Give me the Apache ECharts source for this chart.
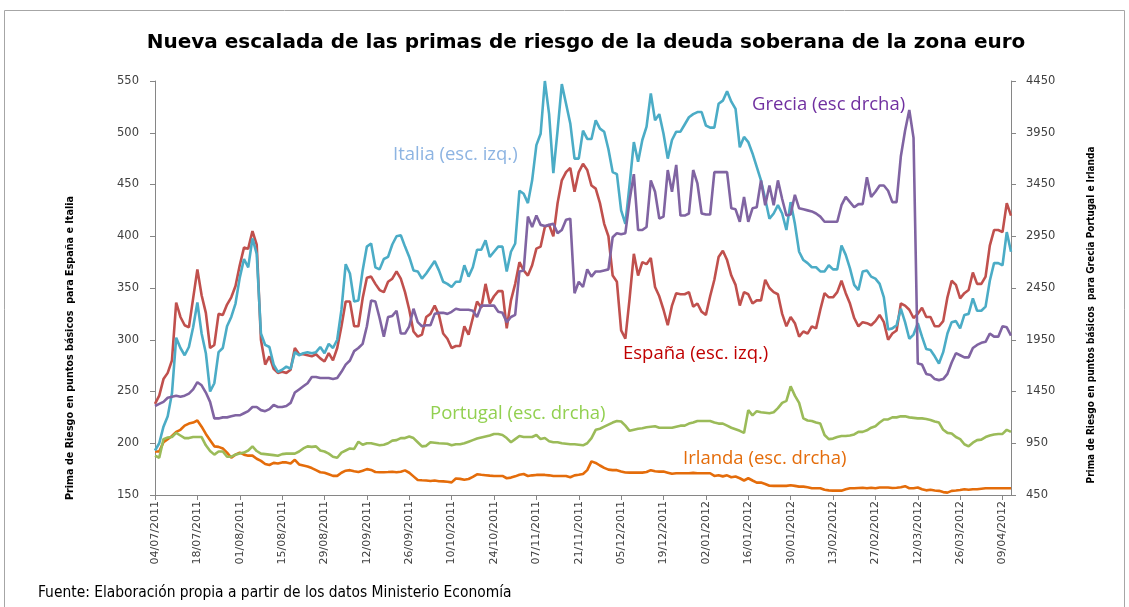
<!DOCTYPE html>
<html>
<head>
<meta charset="utf-8">
<script src="https://cdn.jsdelivr.net/npm/echarts@6/dist/echarts.min.js"></script>
<style>
  html, body { margin: 0; padding: 0; background: #fff; }
  #chart { width: 1129px; height: 607px; }
</style>
</head>
<body>
<div id="chart"></div>
<script>
// dias habiles desde el 04/07/2011 (203 sesiones)
const startDate = [2011, 6, 4];
const nDays = 203;

const tickLabels = ['04/07/2011', '18/07/2011', '01/08/2011', '15/08/2011', '29/08/2011', '12/09/2011',
  '26/09/2011', '10/10/2011', '24/10/2011', '07/11/2011', '21/11/2011', '05/12/2011', '19/12/2011',
  '02/01/2012', '16/01/2012', '30/01/2012', '13/02/2012', '27/02/2012', '12/03/2012', '26/03/2012', '09/04/2012'];

// escala izquierda
const espana = [
  238,246,262,268,280,336,322,314,312,340,368,343,326,292,295,325,324,334,341,352,372,389,388,405,392,300,276,284,272,268,269,268,271,292,286,286,285,284,286,282,279,287,280,292,313,337,337,313,313,340,360,
  361,354,348,346,356,359,366,359,346,329,308,303,305,322,325,333,324,306,301,292,294,294,313,305,321,337,331,354,335,342,347,347,311,338,354,375,367,362,372,388,390,409,411,400,432,454,462,466,443,462,470,464,
  449,446,432,412,400,362,356,309,301,340,383,362,375,373,379,351,342,329,314,333,345,344,344,346,332,335,327,324,342,358,380,386,377,362,353,333,346,344,335,338,338,358,350,346,344,325,313,322,316,303,308,306,313,
  311,329,345,341,341,346,357,345,335,321,313,317,316,314,318,324,317,300,306,309,335,333,329,321,325,331,322,322,313,313,318,341,357,353,340,345,348,365,354,354,361,391,406,406,404,432,420
];
const italia = [
  193,200,216,226,248,302,292,285,293,312,336,306,287,250,258,288,292,313,322,335,360,378,370,398,383,306,295,293,276,269,271,274,272,288,285,287,288,287,288,293,287,296,292,300,329,373,364,337,338,367,390,
  393,370,368,378,380,392,400,401,390,380,367,366,359,364,370,376,367,356,354,351,356,356,372,361,370,387,387,396,380,385,390,390,366,385,393,444,441,432,454,488,499,550,518,461,502,547,528,509,475,475,502,494,
  494,512,504,501,484,462,460,425,412,450,491,472,493,506,538,512,518,499,475,493,501,501,508,515,518,520,520,507,505,505,528,531,540,530,523,486,496,491,480,467,454,436,417,422,430,422,406,433,412,385,377,374,370,
  370,366,366,372,368,368,391,382,369,353,348,366,367,361,359,354,341,310,311,314,330,317,301,305,316,303,291,290,284,277,288,306,317,318,311,324,325,340,328,328,332,357,374,374,372,404,385
];
// escala derecha
const grecia = [
  1310,1330,1350,1390,1400,1410,1400,1410,1430,1470,1540,1510,1440,1350,1190,1190,1200,1200,1210,1220,1220,1240,1260,1300,1300,1270,1260,1280,1320,1300,1300,1310,1340,1440,1470,1500,1530,1590,1590,1580,1580,1580,1570,1580,1640,1710,1750,1840,1870,1910,2080,
  2330,2320,2160,1980,2170,2180,2230,2010,2010,2080,2250,2120,2080,2090,2090,2200,2210,2210,2200,2220,2250,2240,2240,2240,2230,2170,2280,2280,2280,2280,2220,2210,2120,2170,2190,2610,2620,3140,3040,3150,3060,3050,3060,3070,2980,3010,3110,3120,2400,2510,2460,2630,
  2560,2610,2610,2620,2630,2940,2980,2970,2980,3300,3550,3010,3010,3040,3490,3380,3120,3140,3590,3380,3640,3150,3150,3170,3590,3460,3170,3160,3160,3570,3570,3570,3570,3220,3210,3090,3330,3090,3220,3230,3490,3250,3440,3250,3490,3310,3150,3160,3350,3220,3210,3200,3190,
  3170,3140,3090,3090,3090,3090,3250,3330,3280,3230,3260,3260,3520,3330,3380,3440,3440,3390,3280,3280,3720,3970,4170,3900,1720,1710,1620,1610,1570,1560,1570,1620,1730,1820,1800,1780,1780,1870,1900,1920,1930,2010,1980,1980,2080,2070,1990
];
const portugal = [
  830,810,990,1005,1010,1050,1025,1000,1000,1010,1010,1010,930,875,840,870,870,820,820,840,850,860,880,920,875,850,845,840,835,830,845,850,850,850,870,900,920,915,920,880,870,850,820,810,860,880,900,895,965,935,950,
  950,940,930,935,950,975,980,1000,1000,1015,1000,960,920,925,960,955,950,948,945,930,940,940,950,965,980,995,1005,1015,1025,1040,1040,1030,1000,960,990,1020,1010,1010,1010,1030,990,1000,970,960,960,950,945,940,940,935,930,950,
  1000,1080,1090,1110,1130,1150,1165,1160,1120,1070,1080,1090,1095,1105,1110,1115,1100,1100,1100,1100,1110,1120,1120,1140,1150,1165,1165,1165,1165,1150,1140,1140,1120,1100,1085,1070,1050,1270,1220,1260,1250,1245,1240,1250,1290,1340,1360,1500,1410,1340,1190,1170,1165,
  1150,1140,1030,990,995,1010,1020,1020,1025,1035,1060,1060,1075,1100,1115,1150,1180,1180,1200,1200,1210,1210,1200,1195,1190,1190,1185,1175,1160,1150,1080,1050,1045,1010,990,940,920,955,980,985,1010,1025,1035,1040,1040,1080,1060
];
const irlanda = [
  870,870,960,990,1020,1060,1080,1120,1140,1150,1170,1110,1040,980,920,915,900,860,810,840,860,840,830,830,800,780,750,740,760,755,765,765,755,790,745,735,725,710,690,670,665,650,635,635,665,685,690,680,672,685,700,
  692,672,670,670,672,675,670,675,688,665,630,595,592,590,585,590,583,582,578,572,610,606,598,605,625,650,645,641,637,634,634,634,612,618,630,645,653,634,640,644,644,644,640,634,634,634,634,621,640,645,653,690,
  775,760,735,712,695,690,690,678,668,666,666,666,666,672,690,680,676,676,666,655,660,660,660,660,664,660,660,660,660,634,640,630,640,621,628,612,590,612,590,570,570,557,540,538,538,538,538,544,538,531,531,525,515,
  515,515,500,495,492,492,492,505,515,515,518,520,515,520,515,522,522,522,518,520,525,535,515,515,522,505,495,500,493,490,478,473,490,493,498,505,500,505,505,510,515,515,515,515,515,515,515
];

function pad(n) { return (n < 10 ? '0' : '') + n; }
function businessDays(start, n) {
  const out = [];
  const d = new Date(start[0], start[1], start[2]);
  while (out.length < n) {
    const wd = d.getDay();
    if (wd !== 0 && wd !== 6) out.push(pad(d.getDate()) + '/' + pad(d.getMonth() + 1) + '/' + d.getFullYear());
    d.setDate(d.getDate() + 1);
  }
  return out;
}
const dates = businessDays(startDate, nDays);

const axisGray = '#868686';
const tickFont = { fontFamily: 'DejaVu Sans', fontSize: 11.5, color: '#404040' };
const nameFont = '"Liberation Sans Narrow", "DejaVu Sans Condensed", sans-serif';

function lineSeries(name, data, color, yIndex) {
  return {
    name, type: 'line', data, yAxisIndex: yIndex,
    showSymbol: false, symbol: 'none',
    lineStyle: { color, width: 2.6 }, itemStyle: { color },
    z: 2
  };
}

const chart = echarts.init(document.getElementById('chart'));
chart.setOption({
  animation: false,
  grid: { left: 155, right: 118, top: 81, bottom: 112 },
  xAxis: {
    type: 'category',
    data: dates,
    boundaryGap: false,
    axisLine: { lineStyle: { color: axisGray, width: 1 } },
    axisTick: { interval: 9, length: 5, lineStyle: { color: axisGray } },
    axisLabel: {
      interval: (i, v) => tickLabels.includes(v),
      rotate: 90, margin: 6, ...tickFont, fontSize: 11
    }
  },
  yAxis: [
    {
      type: 'value', min: 150, max: 550, interval: 50,
      axisLine: { show: true, lineStyle: { color: axisGray } },
      axisTick: { show: true, length: 5, lineStyle: { color: axisGray } },
      splitLine: { show: false },
      axisLabel: { margin: 16, formatter: (v) => String(v), ...tickFont }
    },
    {
      type: 'value', min: 450, max: 4450, interval: 500,
      position: 'right',
      axisLine: { show: true, lineStyle: { color: axisGray } },
      axisTick: { show: true, length: 5, lineStyle: { color: axisGray } },
      splitLine: { show: false },
      axisLabel: { margin: 15, formatter: (v) => String(v), ...tickFont }
    }
  ],
  series: [
    lineSeries('Irlanda', irlanda, '#E46C0A', 1),
    lineSeries('Portugal', portugal, '#9BBB59', 1),
    lineSeries('España', espana, '#C0504D', 0),
    lineSeries('Italia', italia, '#4BACC6', 0),
    lineSeries('Grecia', grecia, '#8064A2', 1)
  ],
  graphic: [
    { type: 'rect', shape: { x: 4.5, y: 10.5, width: 1120, height: 620 },
      style: { fill: 'none', stroke: '#a6a6a6', lineWidth: 1 }, silent: true },
    { type: 'text', x: 586, y: 43,
      style: { text: 'Nueva escalada de las primas de riesgo de la deuda soberana de la zona euro',
        fontFamily: 'DejaVu Sans', fontWeight: 'bold', fontSize: 20, fill: '#000',
        textAlign: 'center', textVerticalAlign: 'middle' } },
    { type: 'text', x: 70, y: 348, rotation: Math.PI / 2,
      style: { text: 'Prima de Riesgo en puntos básicos  para España e Italia',
        fontFamily: nameFont, fontWeight: 'bold', fontSize: 10.7, fill: '#000',
        textAlign: 'center', textVerticalAlign: 'middle' } },
    { type: 'text', x: 1091, y: 315, rotation: Math.PI / 2,
      style: { text: 'Prima de Riesgo en puntos básicos  para Grecia Portugal e Irlanda',
        fontFamily: nameFont, fontWeight: 'bold', fontSize: 10, fill: '#000',
        textAlign: 'center', textVerticalAlign: 'middle' } },
    { type: 'text', x: 393, y: 155,
      style: { text: 'Italia (esc. izq.)', fontFamily: 'Open Sans', fontSize: 18.5, fill: '#8DB4E2',
        textAlign: 'left', textVerticalAlign: 'middle' } },
    { type: 'text', x: 752, y: 105,
      style: { text: 'Grecia (esc drcha)', fontFamily: 'Open Sans', fontSize: 18.5, fill: '#7030A0',
        textAlign: 'left', textVerticalAlign: 'middle' } },
    { type: 'text', x: 623, y: 354,
      style: { text: 'España (esc. izq.)', fontFamily: 'Open Sans', fontSize: 18.5, fill: '#C00000',
        textAlign: 'left', textVerticalAlign: 'middle' } },
    { type: 'text', x: 430, y: 414,
      style: { text: 'Portugal (esc. drcha)', fontFamily: 'Open Sans', fontSize: 18.5, fill: '#92D050',
        textAlign: 'left', textVerticalAlign: 'middle' } },
    { type: 'text', x: 683, y: 459,
      style: { text: 'Irlanda (esc. drcha)', fontFamily: 'Open Sans', fontSize: 18.5, fill: '#E46C0A',
        textAlign: 'left', textVerticalAlign: 'middle' } },
    { type: 'text', x: 38, y: 593,
      style: { text: 'Fuente: Elaboración propia a partir de los datos Ministerio Economía',
        fontFamily: nameFont, fontSize: 15.4, fill: '#000',
        textAlign: 'left', textVerticalAlign: 'middle' } }
  ]
});
</script>
</body>
</html>
